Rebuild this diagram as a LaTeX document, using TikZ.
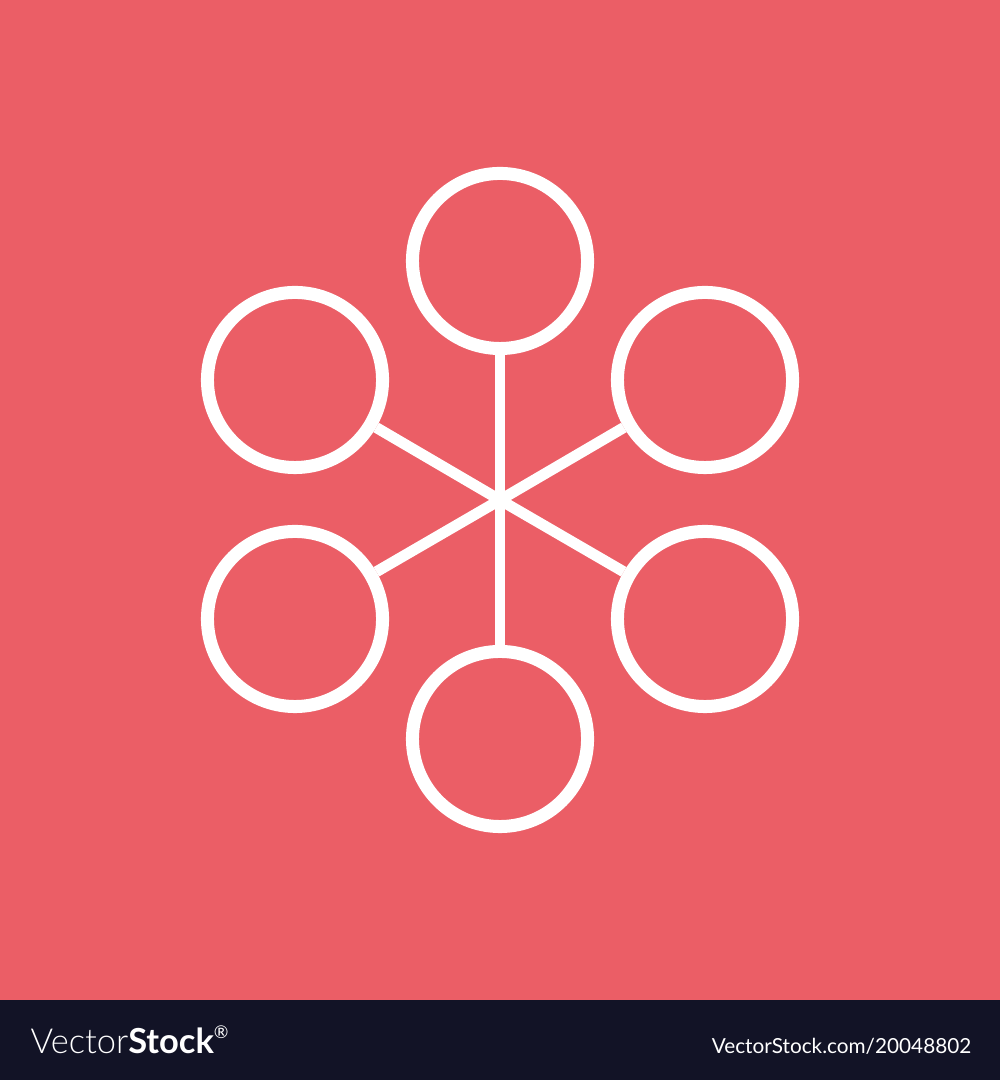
\documentclass[tikz,border=0pt]{standalone}
\usepackage{fontspec}
\setmainfont{Lato}
\newfontfamily\thinlogo{Lato Light}
\usepackage{xcolor}
\usepackage{tikz}
\definecolor{bgred}{HTML}{EB5E66}
\definecolor{barnavy}{HTML}{121326}
\tikzset{
    bubble/.style={circle, draw=white, line width=3.7pt, minimum size=1.75cm, inner sep=0pt},
    spoke/.style={draw=white, line width=3.1pt}
}

\begin{document}
\begin{tikzpicture}[x=0.01cm, y=0.01cm]
    \fill[bgred] (0,80) rectangle (1000,1080);
    \fill[barnavy] (0,0) rectangle (1000,80);
    \useasboundingbox (0,0) rectangle (1000,1080);

    \coordinate (hub) at (500,580);
    \node[bubble] (T) at (500,819) {};
    \node[bubble] (UL) at (295,700) {};
    \node[bubble] (UR) at (705,700) {};
    \node[bubble] (LL) at (295,461) {};
    \node[bubble] (LR) at (705,461) {};
    \node[bubble] (B) at (500,341) {};

    \draw[spoke] (hub) -- (T);
    \draw[spoke] (hub) -- (UL);
    \draw[spoke] (hub) -- (UR);
    \draw[spoke] (hub) -- (LL);
    \draw[spoke] (hub) -- (LR);
    \draw[spoke] (hub) -- (B);

    \node[anchor=base west, text=white, inner sep=0pt, font=\fontsize{9.8pt}{12pt}\selectfont] (logo) at (30,26)
        {{\thinlogo Vector}\textbf{Stock}\raisebox{0.9ex}{\fontsize{5pt}{6pt}\selectfont\textregistered}};
    \node[anchor=base east, text=white, inner sep=0pt, font=\fontsize{5.9pt}{7pt}\selectfont] (link) at (972,27)
        {VectorStock.com/20048802};
\end{tikzpicture}
\end{document}
